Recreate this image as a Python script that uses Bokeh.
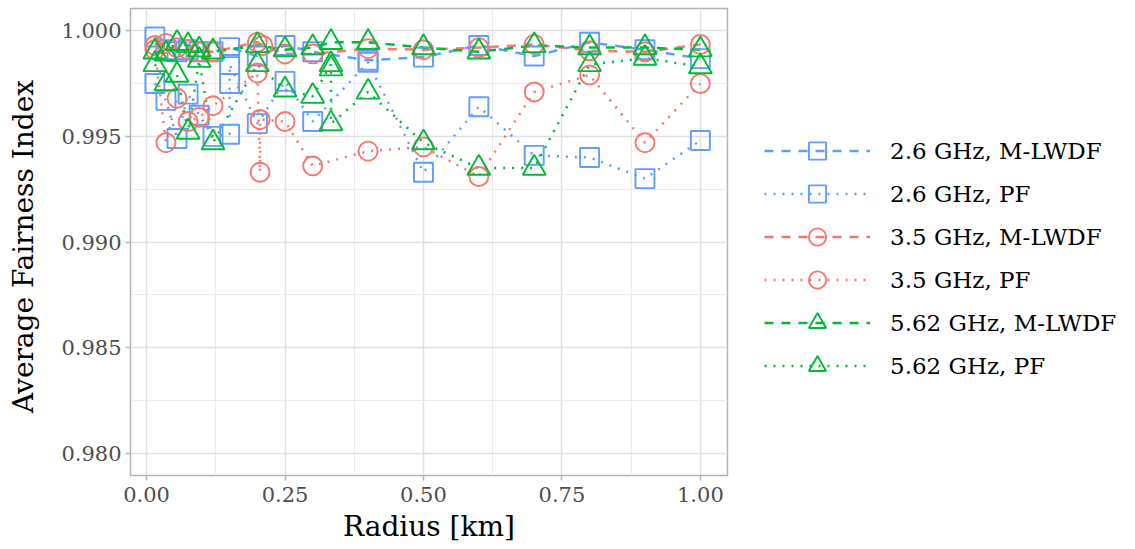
from bokeh.plotting import figure
from bokeh.models import Range1d, FixedTicker, PrintfTickFormatter, Legend, LegendItem
from bokeh.embed import file_html
from bokeh.resources import INLINE

# ---------------- data ----------------
x_26_mlwdf = [0.015, 0.035, 0.055, 0.075, 0.095, 0.12, 0.15, 0.2, 0.25, 0.3, 0.4, 0.5, 0.6, 0.7, 0.8, 0.9, 1.0]
y_26_mlwdf = [0.9997, 0.9991, 0.9990, 0.9991, 0.9990, 0.9990, 0.9992, 0.9988, 0.9993, 0.9990, 0.9986, 0.99875, 0.9993, 0.9988, 0.99945, 0.9991, 0.99868]

x_26_pf = [0.015, 0.035, 0.055, 0.075, 0.095, 0.12, 0.15, 0.15, 0.15, 0.2, 0.25, 0.3, 0.4, 0.5, 0.6, 0.7, 0.8, 0.9, 1.0]
y_26_pf = [0.9975, 0.9967, 0.9949, 0.9970, 0.9960, 0.9950, 0.9951, 0.9975, 0.9984, 0.9956, 0.9976, 0.9957, 0.9985, 0.9933, 0.9964, 0.9941, 0.9940, 0.9930, 0.9948]

x_35_mlwdf = [0.015, 0.035, 0.055, 0.075, 0.095, 0.12, 0.2, 0.21, 0.25, 0.3, 0.4, 0.5, 0.6, 0.7, 0.8, 0.9, 1.0]
y_35_mlwdf = [0.9993, 0.9994, 0.9992, 0.9991, 0.9990, 0.9990, 0.99945, 0.9993, 0.9989, 0.9989, 0.99915, 0.9991, 0.9992, 0.99935, 0.99905, 0.9990, 0.99935]

x_35_pf = [0.015, 0.035, 0.055, 0.075, 0.095, 0.12, 0.2, 0.205, 0.205, 0.25, 0.3, 0.4, 0.5, 0.6, 0.7, 0.8, 0.9, 1.0]
y_35_pf = [0.9991, 0.9947, 0.9968, 0.9957, 0.9959, 0.99645, 0.9980, 0.9933, 0.9958, 0.9957, 0.9936, 0.9943, 0.9945, 0.9931, 0.9971, 0.9979, 0.9947, 0.9975]

x_562_mlwdf = [0.015, 0.035, 0.055, 0.075, 0.095, 0.12, 0.2, 0.25, 0.3, 0.333, 0.4, 0.5, 0.6, 0.7, 0.8, 0.9, 1.0]
y_562_mlwdf = [0.9990, 0.9989, 0.9994, 0.9993, 0.9991, 0.9990, 0.9993, 0.9991, 0.9992, 0.99945, 0.99945, 0.9992, 0.9990, 0.9993, 0.9992, 0.9992, 0.9991]

x_562_pf = [0.015, 0.035, 0.055, 0.075, 0.095, 0.12, 0.2, 0.25, 0.3, 0.333, 0.333, 0.333, 0.4, 0.5, 0.6, 0.7, 0.8, 0.9, 1.0]
y_562_pf = [0.9984, 0.9975, 0.9979, 0.9952, 0.9986, 0.9947, 0.9984, 0.9972, 0.9969, 0.9984, 0.9982, 0.9956, 0.9971, 0.9947, 0.9935, 0.9935, 0.9984, 0.9987, 0.9983]

labels = ["2.6 GHz, M-LWDF", "2.6 GHz, PF", "3.5 GHz, M-LWDF", "3.5 GHz, PF",
          "5.62 GHz, M-LWDF", "5.62 GHz, PF"]
x_ticks = [0.0, 0.25, 0.5, 0.75, 1.0]
y_ticks = [0.980, 0.985, 0.990, 0.995, 1.000]

# ---------------- styling ----------------
FONT = "DejaVu Serif"
BLUE, RED, GREEN = "#619CFF", "#F8766D", "#00BA38"
DASH, DOT = "9 8", "2 7"

series = [
    (x_26_mlwdf, y_26_mlwdf, BLUE, DASH, "square", 19),
    (x_26_pf, y_26_pf, BLUE, DOT, "square", 19),
    (x_35_mlwdf, y_35_mlwdf, RED, DASH, "circle", 19),
    (x_35_pf, y_35_pf, RED, DOT, "circle", 19),
    (x_562_mlwdf, y_562_mlwdf, GREEN, DASH, "triangle", 23),
    (x_562_pf, y_562_pf, GREEN, DOT, "triangle", 23),
]

p = figure(frame_width=597, frame_height=467, min_border_left=130, min_border_right=0,
           min_border_top=8, min_border_bottom=74, output_backend="svg", toolbar_location=None,
           x_range=Range1d(-0.029, 1.049), y_range=Range1d(0.97895, 1.00105))
p.background_fill_color = "white"
p.border_fill_color = "white"
p.outline_line_color = "#b3b3b3"
p.outline_line_width = 1.5

p.xaxis.ticker = FixedTicker(ticks=x_ticks, minor_ticks=[0.125, 0.375, 0.625, 0.875])
p.yaxis.ticker = FixedTicker(ticks=y_ticks, minor_ticks=[0.9825, 0.9875, 0.9925, 0.9975])
p.xaxis.formatter = PrintfTickFormatter(format="%.2f")
p.yaxis.formatter = PrintfTickFormatter(format="%.3f")

for ax in (p.xaxis, p.yaxis):
    ax.axis_line_color = None
    ax.major_tick_line_color = "#b3b3b3"
    ax.major_tick_line_width = 1.5
    ax.major_tick_out = 5
    ax.major_tick_in = 0
    ax.minor_tick_line_color = None
    ax.major_label_text_font = FONT
    ax.major_label_text_font_size = "21px"
    ax.major_label_text_color = "#4d4d4d"
    ax.axis_label_text_font = FONT
    ax.axis_label_text_font_size = "28px"
    ax.axis_label_text_font_style = "normal"
    ax.axis_label_text_color = "black"

p.xaxis.axis_label = "Radius [km]"
p.yaxis.axis_label = "Average  Fairness Index"
p.xaxis.major_label_standoff = 6
p.yaxis.major_label_standoff = 4
p.xaxis.axis_label_standoff = 5
p.yaxis.axis_label_standoff = 18

for g in (p.xgrid, p.ygrid):
    g.grid_line_color = "#e0e0e0"
    g.grid_line_width = 1.5
    g.minor_grid_line_color = "#ebebeb"
    g.minor_grid_line_width = 1.0

line_rs, pt_rs = [], []
for xs, ys, col, dash, marker, size in series:
    line_rs.append(p.line(xs, ys, line_color=col, line_dash=dash, line_width=2.5))
for xs, ys, col, dash, marker, size in series:
    pt_rs.append(p.scatter(xs, ys, marker=marker, size=size, fill_color=None,
                           line_color=col, line_width=1.9))

items = [LegendItem(label=lab, renderers=[lr, pr]) for lab, lr, pr in zip(labels, line_rs, pt_rs)]
legend = Legend(items=items, location=(37, 88), orientation="vertical")
legend.glyph_width = 106
legend.glyph_height = 43
legend.label_height = 43
legend.spacing = 0
legend.padding = 10
legend.margin = 16
legend.label_standoff = 20
legend.label_text_font = FONT
legend.label_text_font_size = "23px"
legend.label_text_color = "black"
legend.border_line_color = None
legend.background_fill_alpha = 0
p.add_layout(legend, "right")

open("out.html", "w").write(file_html(p, INLINE))
